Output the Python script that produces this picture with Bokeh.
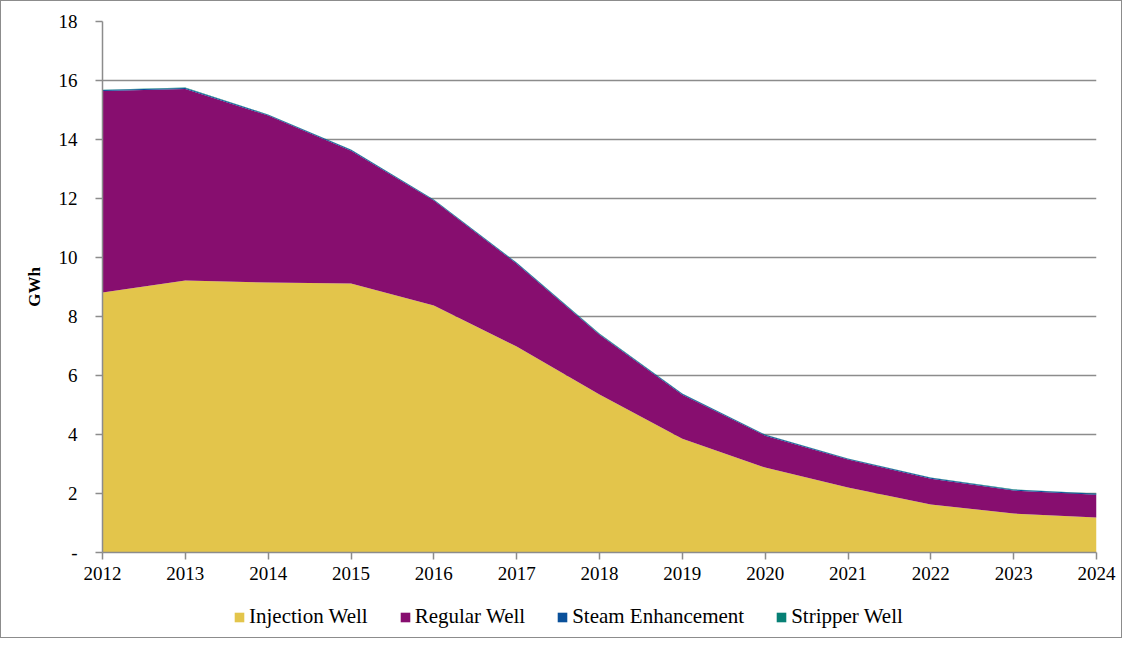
from bokeh.plotting import figure
from bokeh.layouts import column
from bokeh.models import ColumnDataSource, Legend, FixedTicker
from bokeh.embed import file_html
from bokeh.resources import INLINE

years = [2012, 2013, 2014, 2015, 2016, 2017, 2018, 2019, 2020, 2021, 2022, 2023, 2024]
injection = [8.81, 9.22, 9.15, 9.12, 8.37, 6.98, 5.36, 3.86, 2.88, 2.20, 1.63, 1.32, 1.19]
regular = [6.83, 6.49, 5.66, 4.50, 3.56, 2.81, 2.02, 1.49, 1.08, 0.95, 0.87, 0.78, 0.77]
steam = [0.04, 0.04, 0.03, 0.03, 0.03, 0.03, 0.03, 0.03, 0.03, 0.03, 0.03, 0.03, 0.03]
stripper = [0.01, 0.01, 0.01, 0.01, 0.01, 0.01, 0.01, 0.01, 0.01, 0.01, 0.01, 0.01, 0.01]
series = ["Injection Well", "Regular Well", "Steam Enhancement", "Stripper Well"]
colors = ["#E3C54B", "#870E6F", "#0A509A", "#078075"]
yticks = [0, 2, 4, 6, 8, 10, 12, 14, 16, 18]

source = ColumnDataSource(dict(year=years, inj=injection, reg=regular, stm=steam, strp=stripper))
stackers = ["inj", "reg", "stm", "strp"]

FONT = "Liberation Serif"
GRID = "#8c8c8c"

# main chart
p = figure(width=1120, height=595, output_backend="svg", toolbar_location=None,
           x_range=(2012, 2024), y_range=(0, 18),
           min_border_left=101, min_border_right=25, min_border_top=20, min_border_bottom=44)

p.varea_stack(stackers=stackers, x="year", color=colors, source=source)

p.outline_line_color = None
p.xgrid.grid_line_color = None
p.ygrid.grid_line_color = GRID
p.ygrid.grid_line_width = 1.3
p.ygrid.ticker = FixedTicker(ticks=yticks)

p.xaxis.ticker = FixedTicker(ticks=years)
p.yaxis.ticker = FixedTicker(ticks=yticks)
p.yaxis.major_label_overrides = {0: "-"}
for ax in (p.xaxis[0], p.yaxis[0]):
    ax.axis_line_color = GRID
    ax.axis_line_width = 1.5
    ax.major_tick_line_color = GRID
    ax.major_tick_line_width = 1.5
    ax.major_tick_in = 0
    ax.minor_tick_line_color = None
    ax.major_label_text_font = FONT
    ax.major_label_text_font_size = "19px"
    ax.major_label_text_color = "#000000"
p.xaxis.major_tick_out = 7
p.yaxis.major_tick_out = 7
p.xaxis.major_label_standoff = 7
p.yaxis.major_label_standoff = 18
p.yaxis.axis_label = "GWh"
p.yaxis.axis_label_text_font = FONT
p.yaxis.axis_label_text_font_style = "bold"
p.yaxis.axis_label_text_font_size = "17px"
p.yaxis.axis_label_text_color = "#000000"
p.yaxis.axis_label_standoff = 12

# legend strip: its own small figure, whose stack of the same series lies outside its view
lg = figure(width=1120, height=41, output_backend="svg", toolbar_location=None,
            x_range=(0, 1), y_range=(0, 1), min_border=0,
            x_axis_location=None, y_axis_location=None)
lg.grid.visible = False
lg.outline_line_color = None
leg_renderers = lg.varea_stack(stackers=stackers, x="year", color=colors, source=source)
legend = Legend(items=[(name, [r]) for name, r in zip(series, leg_renderers)],
                orientation="horizontal", location=(131, 8),
                label_text_font=FONT, label_text_font_size="21px", label_text_color="#000000",
                glyph_width=12, glyph_height=12, spacing=31, label_standoff=4,
                border_line_color=None, background_fill_alpha=0,
                margin=0, padding=0)
lg.add_layout(legend, "center")

layout = column(p, lg, spacing=0)
layout.styles = {"border": "1px solid #8c8c8c"}

open("out.html", "w").write(file_html(layout, INLINE))
